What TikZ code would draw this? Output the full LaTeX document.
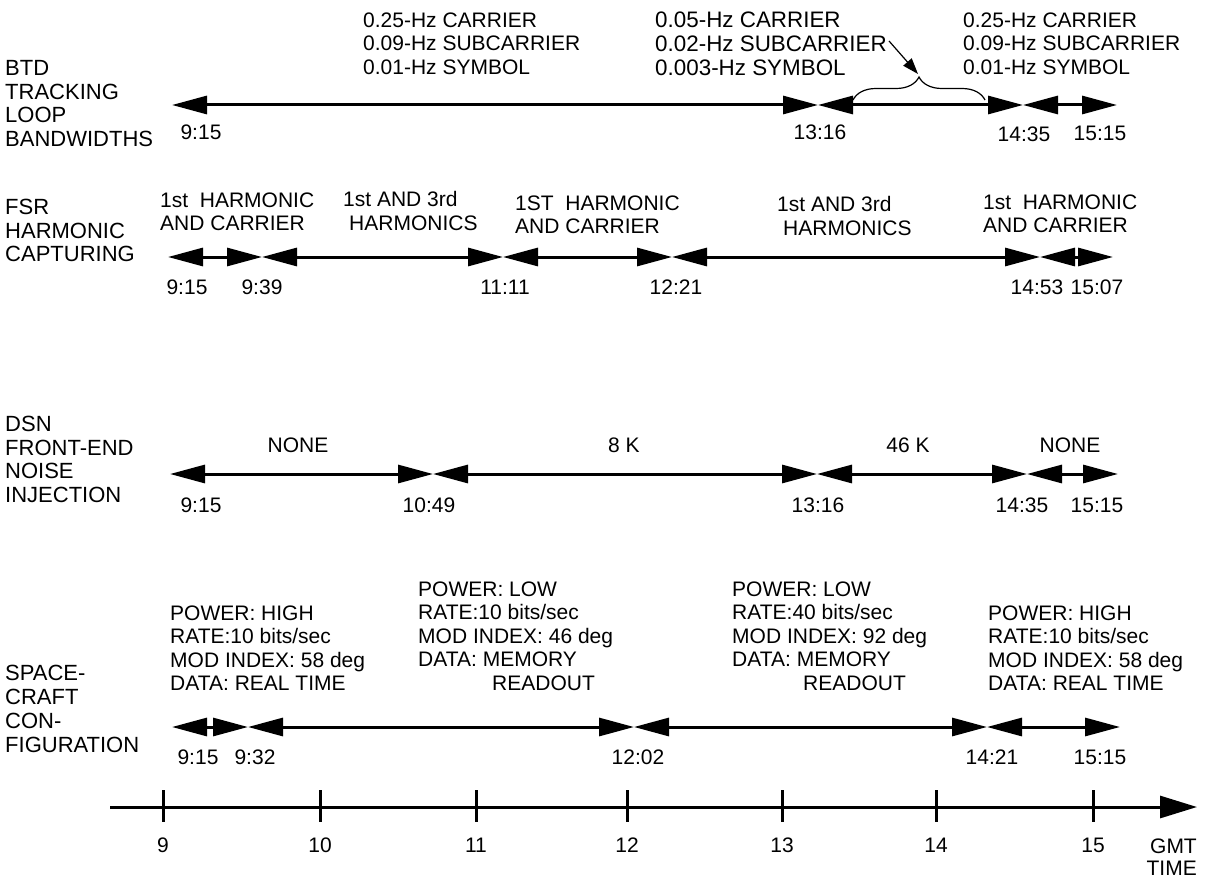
\documentclass[tikz,border=0pt]{standalone}
\usepackage{fontspec}
\setmainfont{Liberation Sans}
\usetikzlibrary{arrows.meta,decorations.pathreplacing}
\begin{document}
\begin{tikzpicture}[x=1pt,y=-1pt,
  txt/.style={font=\fontsize{21}{23.5}\selectfont, inner sep=0pt, align=left, anchor=north west},
  rowlab/.style={font=\fontsize{22}{23.7}\selectfont, inner sep=0pt, align=left, anchor=north west},
  tlab/.style={font=\fontsize{21}{23.5}\selectfont, inner sep=0pt, anchor=center},
  iv/.style={line width=3pt, {Triangle[length=35pt,width=18pt]}-{Triangle[length=35pt,width=18pt]}},
  axisline/.style={line width=3pt, -{Triangle[length=37pt,width=22pt]}},
  tickmark/.style={line width=3pt},
  brc/.style={line width=1.2pt, decorate, decoration={brace, amplitude=23pt}},
  ptr/.style={line width=1.2pt, -{Triangle[length=16pt,width=11pt]}}]
\useasboundingbox (0,0) rectangle (1206,880);

% ---------- left row labels ----------
\node[rowlab] (lab1) at (5,60) {BTD\\TRACKING\\LOOP\\BANDWIDTHS};
\node[rowlab] (lab2) at (5,199) {FSR\\HARMONIC\\CAPTURING};
\node[rowlab] (lab3) at (5,416) {DSN\\FRONT-END\\NOISE\\INJECTION};
\node[rowlab,font=\fontsize{22}{24}\selectfont] (lab4) at (5,664.5) {SPACE-\\CRAFT\\CON-\\FIGURATION};

% ---------- row 1: BTD ----------
\coordinate (a0) at (172,105);
\coordinate (a1) at (818,105);
\coordinate (a2) at (1023,105);
\coordinate (a3) at (1117,105);
\draw[iv] (a0) -- (a1);
\draw[iv] (a1) -- (a2);
\draw[iv] (a2) -- (a3);
\node[txt] (t1a) at (363,12.5) {0.25-Hz CARRIER\\0.09-Hz SUBCARRIER\\0.01-Hz SYMBOL};
\node[txt,font=\fontsize{22.4}{23.7}\selectfont] (t1b) at (655,12) {0.05-Hz CARRIER\\0.02-Hz SUBCARRIER\\0.003-Hz SYMBOL};
\node[txt] (t1c) at (963,12.5) {0.25-Hz CARRIER\\0.09-Hz SUBCARRIER\\0.01-Hz SYMBOL};
\node[tlab] (l1a) at (201,132) {9:15};
\node[tlab] (l1b) at (820,132) {13:16};
\node[tlab] (l1c) at (1024,134) {14:35};
\node[tlab] (l1d) at (1100,133) {15:15};
\coordinate (brL) at (853,100);
\coordinate (brR) at (985,100);
\draw[brc] (brL) -- (brR);
\coordinate (brS) at (889,41);
\coordinate (brT) at (918,74);
\draw[ptr] (brS) -- (brT);

% ---------- row 2: FSR ----------
\coordinate (b0) at (168,257);
\coordinate (b1) at (262,257);
\coordinate (b2) at (503,257);
\coordinate (b3) at (672,257);
\coordinate (b4) at (1040,257);
\coordinate (b5) at (1113,257);
\draw[iv] (b0) -- (b1);
\draw[iv] (b1) -- (b2);
\draw[iv] (b2) -- (b3);
\draw[iv] (b3) -- (b4);
\draw[iv] (b4) -- (b5);
\node[txt] (t2a) at (160,192.5) {1st~~HARMONIC\\AND CARRIER};
\node[txt] (t2b) at (343,191.5) {1st AND 3rd\\\hspace*{6pt}HARMONICS};
\node[txt] (t2c) at (515,195.5) {1ST~~HARMONIC\\AND CARRIER};
\node[txt] (t2d) at (777,196.5) {1st AND 3rd\\\hspace*{6pt}HARMONICS};
\node[txt] (t2e) at (983,194.5) {1st~~HARMONIC\\AND CARRIER};
\node[tlab] (l2a) at (187,287) {9:15};
\node[tlab] (l2b) at (262,287) {9:39};
\node[tlab] (l2c) at (505,287) {11:11};
\node[tlab] (l2d) at (676,287) {12:21};
\node[tlab] (l2e) at (1037,287) {14:53};
\node[tlab] (l2f) at (1097,287) {15:07};

% ---------- row 3: DSN ----------
\coordinate (c0) at (170,474);
\coordinate (c1) at (433,474);
\coordinate (c2) at (817,474);
\coordinate (c3) at (1027,474);
\coordinate (c4) at (1118,474);
\draw[iv] (c0) -- (c1);
\draw[iv] (c1) -- (c2);
\draw[iv] (c2) -- (c3);
\draw[iv] (c3) -- (c4);
\node[tlab] (t3a) at (298,445) {NONE};
\node[tlab] (t3b) at (624,445) {8 K};
\node[tlab] (t3c) at (908,445) {46 K};
\node[tlab] (t3d) at (1070,445) {NONE};
\node[tlab] (l3a) at (201,505) {9:15};
\node[tlab] (l3b) at (429,505) {10:49};
\node[tlab] (l3c) at (818,505) {13:16};
\node[tlab] (l3d) at (1022,505) {14:35};
\node[tlab] (l3e) at (1097,505) {15:15};

% ---------- row 4: spacecraft ----------
\coordinate (d0) at (172,727);
\coordinate (d1) at (248,727);
\coordinate (d2) at (634,727);
\coordinate (d3) at (987,727);
\coordinate (d4) at (1120,727);
\draw[iv] (d0) -- (d1);
\draw[iv] (d1) -- (d2);
\draw[iv] (d2) -- (d3);
\draw[iv] (d3) -- (d4);
\node[txt] (t4a) at (170,605.5) {POWER: HIGH\\RATE:10 bits/sec\\MOD INDEX: 58 deg\\DATA: REAL TIME};
\node[txt] (t4b) at (418,581.5) {POWER: LOW\\RATE:10 bits/sec\\MOD INDEX: 46 deg\\DATA: MEMORY\\\hspace*{74pt}READOUT};
\node[txt] (t4c) at (732,581.5) {POWER: LOW\\RATE:40 bits/sec\\MOD INDEX: 92 deg\\DATA: MEMORY\\\hspace*{71pt}READOUT};
\node[txt] (t4d) at (988,605.5) {POWER: HIGH\\RATE:10 bits/sec\\MOD INDEX: 58 deg\\DATA: REAL TIME};
\node[tlab] (l4a) at (198,757) {9:15};
\node[tlab] (l4b) at (255,757) {9:32};
\node[tlab] (l4c) at (638,757) {12:02};
\node[tlab] (l4d) at (992,757) {14:21};
\node[tlab] (l4e) at (1100,757) {15:15};

% ---------- time axis ----------
\coordinate (ax0) at (110,807);
\coordinate (ax1) at (1197,807);
\draw[axisline] (ax0) -- (ax1);
\foreach \x/\h in {163/9,320/10,476/11,627/12,782/13,936/14,1093/15}{
  \draw[tickmark] (\x,790) -- (\x,822);
  \node[tlab] (h\h) at (\x,845) {\h};
}
\node[font=\fontsize{21}{22}\selectfont, inner sep=0pt, align=right, anchor=north east] (gmt) at (1197,838.5) {GMT\\TIME};
\end{tikzpicture}
\end{document}
